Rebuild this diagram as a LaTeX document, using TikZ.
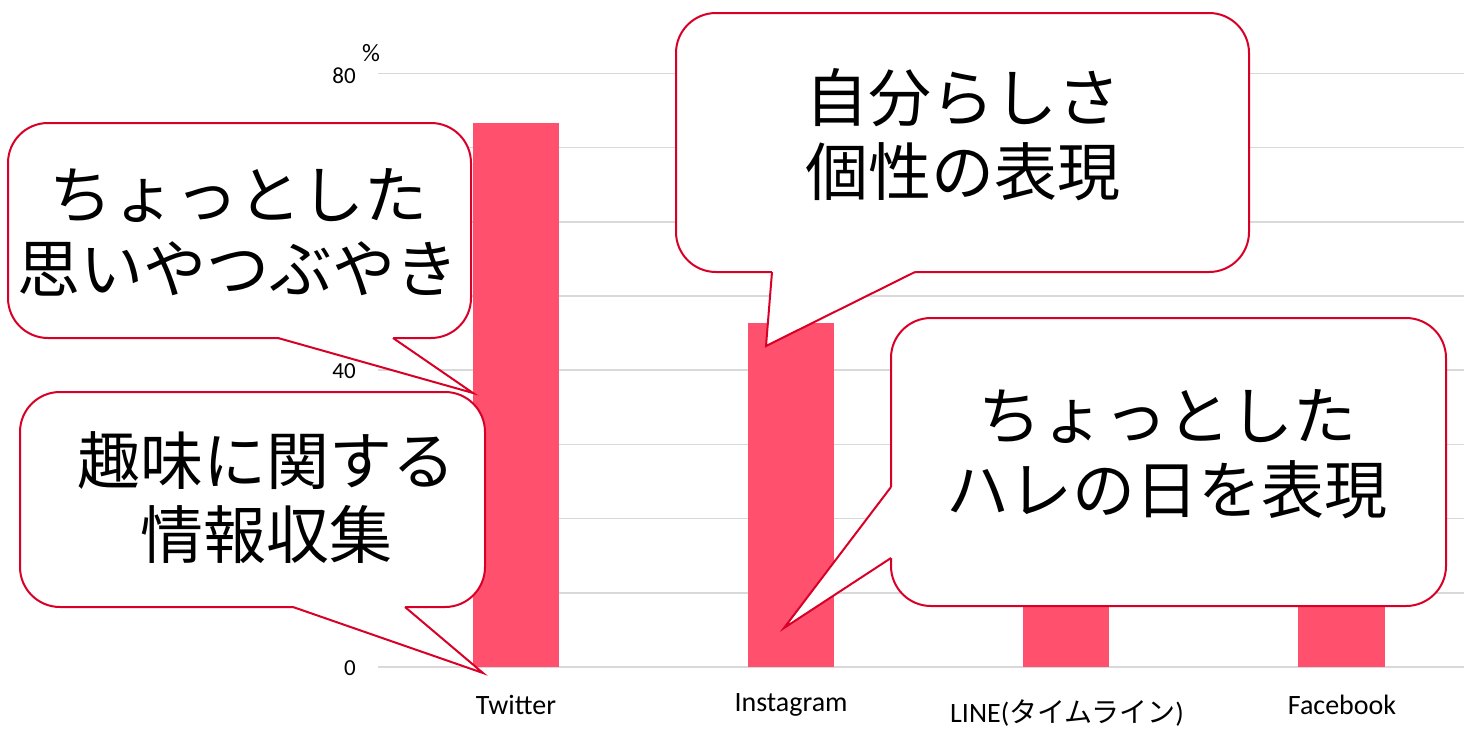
\documentclass[tikz,border=0pt]{standalone}
\usepackage{fontspec}
\setmainfont{Carlito}
\newfontfamily\jp{Noto Sans CJK JP}
\definecolor{barcol}{RGB}{255,80,110}
\definecolor{cred}{RGB}{217,0,40}
\definecolor{gridcol}{RGB}{217,217,217}
\tikzset{
 callout/.style={draw=cred, line width=2pt, fill=white, rounded corners=40pt, inner sep=0pt, outer sep=0pt},
 ctext/.style={font=\jp\fontsize{63}{74}\selectfont, align=center, inner sep=0pt},
 tailline/.style={draw=cred, line width=2pt, line join=miter},
 barst/.style={fill=barcol, draw=none},
 gridl/.style={draw=gridcol, line width=1.5pt},
 ticklab/.style={font=\fontsize{23}{25}\selectfont, anchor=east, inner sep=0pt},
 xlab/.style={font=\fontsize{28}{30}\selectfont, inner sep=0pt},
}
\begin{document}
\begin{tikzpicture}[x=1pt,y=-1pt]
\useasboundingbox (0,0) rectangle (1464,728);
\fill[white] (0,0) rectangle (1464,728);
% grid
\foreach \k in {0,...,8}{
  \draw[gridl] (378,{667-74.2*\k}) -- (1464,{667-74.2*\k});
}
% bars
\fill[barst] (473,123) rectangle (559,667);
\fill[barst] (748,323) rectangle (834,667);
\fill[barst] (1023,545) rectangle (1109,667);
\fill[barst] (1298,545) rectangle (1385,667);
% axis labels
\node[ticklab] (y80) at (356,76) {80};
\node[ticklab] (y40) at (356,371) {40};
\node[ticklab] (y0) at (356,668) {0};
\node[font=\fontsize{25}{27}\selectfont, inner sep=0pt] (pct) at (371,53) {\%};
\node[xlab] (xtw) at (516,705) {Twitter};
\node[xlab] (xin) at (791,705) {Instagram};
\node[xlab] (xli) at (1067,713) {LINE({\jp タイムライン})};
\node[xlab] (xfb) at (1342,705) {Facebook};
% callout 1
\node[callout, minimum width=463pt, minimum height=215pt] (c1) at (239.5,230.5) {};
\coordinate (c1tip) at (473,393);
\fill[white] (278,334) -- (278,338) -- (c1tip) -- (393,338) -- (393,334) -- cycle;
\draw[tailline] (278,338) -- (c1tip) -- (393,338);
\node[ctext] (t1) at (238,232) {ちょっとした\\思いやつぶやき};
% callout 2
\node[callout, minimum width=465pt, minimum height=215pt] (c2) at (252.5,499.5) {};
\coordinate (c2tip) at (483,673);
\fill[white] (293,603) -- (293,607) -- (c2tip) -- (405,607) -- (405,603) -- cycle;
\draw[tailline] (293,607) -- (c2tip) -- (405,607);
\node[ctext] (t2) at (266,498) {趣味に関する\\情報収集};
% callout 3
\node[callout, minimum width=573pt, minimum height=259pt] (c3) at (962.5,142.5) {};
\coordinate (c3tip) at (766,346);
\fill[white] (772,268) -- (772,272) -- (c3tip) -- (915,272) -- (915,268) -- cycle;
\draw[tailline] (772,272) -- (c3tip) -- (915,272);
\node[ctext] (t3) at (963,135) {自分らしさ\\個性の表現};
% callout 4
\node[callout, minimum width=555pt, minimum height=288pt] (c4) at (1168.5,462) {};
\coordinate (c4tip) at (784,628);
\fill[white] (895,487) -- (891,487) -- (c4tip) -- (891,558) -- (895,558) -- cycle;
\draw[tailline] (891,487) -- (c4tip) -- (891,558);
\node[ctext] (t4) at (1167,454) {ちょっとした\\ハレの日を表現};
\end{tikzpicture}
\end{document}
